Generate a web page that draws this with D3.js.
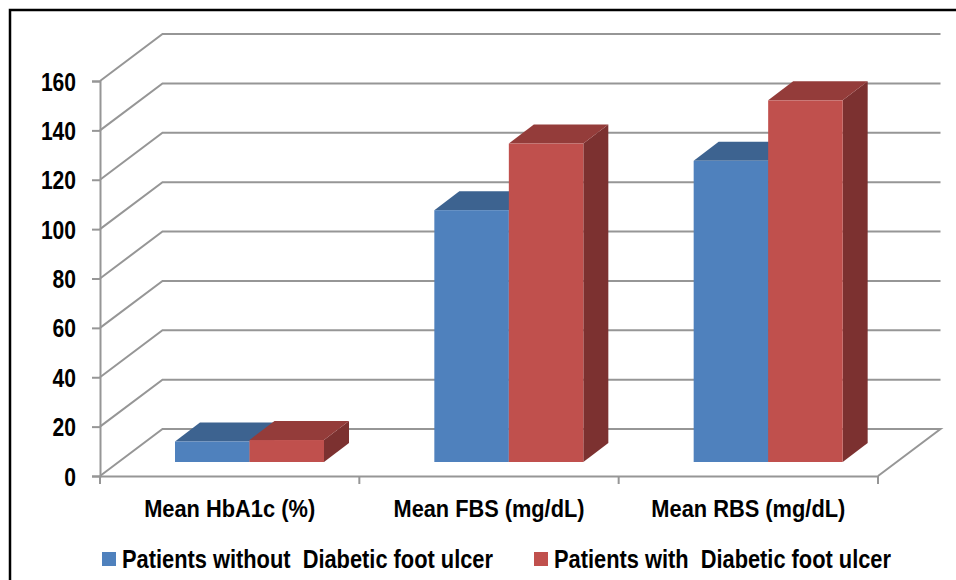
<!DOCTYPE html>
<html>
<head>
<meta charset="utf-8">
<script src="https://cdnjs.cloudflare.com/ajax/libs/d3/7.8.5/d3.min.js"></script>
<style>
  html, body { margin: 0; padding: 0; background: #fff; overflow: hidden; }
  text { font-family: "Liberation Sans", Arial, sans-serif; font-weight: bold; fill: #000; }
</style>
</head>
<body>
<div id="chart"></div>
<script>
const categories = ['Mean HbA1c (%)', 'Mean FBS (mg/dL)', 'Mean RBS (mg/dL)'];
const seriesNames = ['Patients without  Diabetic foot ulcer', 'Patients with  Diabetic foot ulcer'];
const withoutUlcer = [8.3, 102, 122];
const withUlcer = [8.9, 129, 146.5];
const yTicks = [0, 20, 40, 60, 80, 100, 120, 140, 160];

const colors = [
  { front: '#4f81bd', top: '#3d6390', side: '#3a5f8a' },
  { front: '#c0504d', top: '#943c3a', side: '#7c3130' }
];

const svg = d3.select('#chart').append('svg')
  .attr('width', 956)
  .attr('height', 580);

// cut off frame, runs past the right and bottom of the picture
svg.append('rect')
  .attr('x', 10).attr('y', 10)
  .attr('width', 1000).attr('height', 700)
  .attr('fill', 'none').attr('stroke', '#000').attr('stroke-width', 2.5);

let y = d3.scaleLinear().domain([0, 160]).range([476, 81]);
let x = d3.scaleBand().domain(categories).range([100, 878]).paddingInner(0).paddingOuter(0);
let xSeries = d3.scaleBand().domain([0, 1]).range([75, 224]);

const wall = { dx: 62.5, dy: -47 };   // back wall offset
const barLift = 14;                   // bars stand this far up the floor
const depth = { dx: 25, dy: -19 };    // depth of each bar

let grid = svg.append('g').attr('fill', 'none').attr('stroke', '#969696').attr('stroke-width', 2);

// gridlines on the left and back walls
grid.selectAll('path.wall')
  .data(yTicks.slice(1))
  .join('path')
  .attr('class', 'wall')
  .attr('d', d => `M${x.range()[0]},${y(d)}L${x.range()[0] + wall.dx},${y(d) + wall.dy}L${x.range()[1] + wall.dx},${y(d) + wall.dy}`);

// floor
grid.append('path')
  .attr('d', `M${x.range()[0]},${y(0)}L${x.range()[0] + wall.dx},${y(0) + wall.dy}L${x.range()[1] + wall.dx},${y(0) + wall.dy}L${x.range()[1]},${y(0)}`);

// axes
let yAxis = d3.axisLeft(y).tickValues(yTicks).tickSize(8).tickPadding(16);
let gy = svg.append('g').attr('transform', `translate(${x.range()[0]},0)`).call(yAxis);
gy.selectAll('path,line').attr('stroke', '#969696').attr('stroke-width', 2);
gy.selectAll('text').style('font-size', '25px').attr('dy', '0.36em')
  .attr('textLength', d => String(d).length * 11.7).attr('lengthAdjust', 'spacingAndGlyphs');

let xAxis = d3.axisBottom(x).tickValues([]).tickSize(0);
let gx = svg.append('g').attr('transform', `translate(0,${y(0)})`).call(xAxis);
gx.selectAll('path').attr('stroke', '#969696').attr('stroke-width', 2);

// band edge ticks
gx.selectAll('line.edge')
  .data(categories.map(c => x(c)).concat(x.range()[1]))
  .join('line')
  .attr('class', 'edge')
  .attr('x1', d => d).attr('x2', d => d)
  .attr('y1', 0).attr('y2', 8)
  .attr('stroke', '#969696').attr('stroke-width', 2);

gx.selectAll('text.cat')
  .data(categories)
  .join('text')
  .attr('class', 'cat')
  .attr('x', d => x(d) + x.bandwidth() / 2)
  .attr('y', 41)
  .attr('text-anchor', 'middle')
  .style('font-size', '24px')
  .attr('textLength', (d, i) => [171, 191, 194][i])
  .attr('lengthAdjust', 'spacingAndGlyphs')
  .text(d => d);

// bars, drawn left to right so that red covers the blue side
let bars = [];
categories.forEach((c, i) => {
  bars.push({ cat: c, s: 0, value: withoutUlcer[i] });
  bars.push({ cat: c, s: 1, value: withUlcer[i] });
});

let baseY = y(0) - barLift;
let barG = svg.selectAll('g.bar').data(bars).join('g').attr('class', 'bar');

function barGeom(d) {
  let x0 = x(d.cat) + xSeries(d.s);
  let x1 = x0 + xSeries.bandwidth();
  let top = baseY - (y(0) - y(d.value));
  return { x0, x1, top };
}

barG.append('path')
  .attr('fill', d => colors[d.s].side)
  .attr('d', d => {
    let g = barGeom(d);
    return `M${g.x1},${g.top}L${g.x1 + depth.dx},${g.top + depth.dy}L${g.x1 + depth.dx},${baseY + depth.dy}L${g.x1},${baseY}Z`;
  });

barG.append('path')
  .attr('fill', d => colors[d.s].top)
  .attr('d', d => {
    let g = barGeom(d);
    return `M${g.x0},${g.top}L${g.x0 + depth.dx},${g.top + depth.dy}L${g.x1 + depth.dx},${g.top + depth.dy}L${g.x1},${g.top}Z`;
  });

barG.append('rect')
  .attr('fill', d => colors[d.s].front)
  .attr('x', d => barGeom(d).x0)
  .attr('y', d => barGeom(d).top)
  .attr('width', xSeries.bandwidth())
  .attr('height', d => baseY - barGeom(d).top);

// legend
let legend = svg.selectAll('g.legend').data(seriesNames).join('g')
  .attr('class', 'legend')
  .attr('transform', (d, i) => `translate(${[102, 534][i]},552)`);

legend.append('rect')
  .attr('width', 14).attr('height', 14)
  .attr('fill', (d, i) => colors[i].front);

legend.append('text')
  .attr('x', 20).attr('y', 16)
  .style('font-size', '25px')
  .attr('textLength', (d, i) => [371, 337][i])
  .attr('lengthAdjust', 'spacingAndGlyphs')
  .style('white-space', 'pre')
  .text(d => d);
</script>
</body>
</html>
